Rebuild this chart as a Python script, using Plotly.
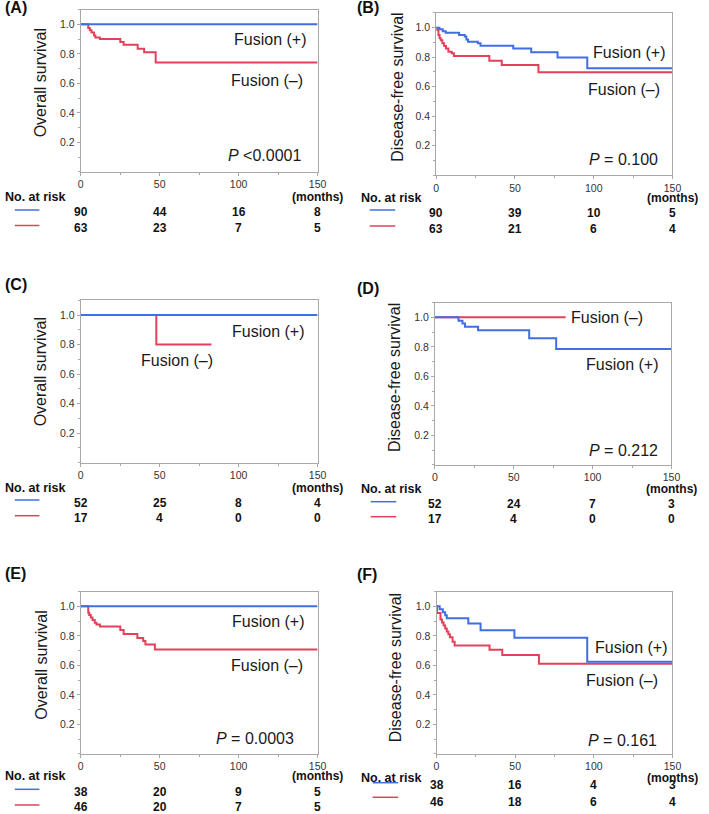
import plotly.graph_objects as go

W, H = 709, 814
BLUE = "#3F6FE3"
RED = "#E4405A"
FONT = "Liberation Sans, Arial, sans-serif"

# ---------------- data ----------------
x_tick_vals = [0, 50, 100, 150]
x_tick_text = ["0", "50", "100", "150"]
y_tick_vals = [0.2, 0.4, 0.6, 0.8, 1.0]
y_tick_text = ["0.2", "0.4", "0.6", "0.8", "1.0"]
risk_times = [0, 50, 100, 150]

# (A) overall survival
A_pos_t = [0, 150]
A_pos_s = [1.0, 1.0]
A_neg_t = [0, 4.8, 5.8, 6.9, 8.5, 9.3, 12.2, 25.1, 27.2, 36.1, 40.2, 47.5, 150]
A_neg_s = [1.0, 0.975, 0.96, 0.945, 0.925, 0.91, 0.90, 0.88, 0.862, 0.835, 0.81, 0.742, 0.742]
A_risk_pos = [90, 44, 16, 8]
A_risk_neg = [63, 23, 7, 5]
A_p = "<i>P</i> &lt;0.0001"

# (B) disease-free survival
B_pos_t = [0, 2.0, 4.1, 6.0, 14.5, 18.1, 19.1, 20.2, 26.4, 28.1, 48.9, 60.3, 77.0, 95.9, 150]
B_pos_s = [1.0, 0.99, 0.975, 0.966, 0.95, 0.94, 0.92, 0.905, 0.894, 0.878, 0.858, 0.833, 0.797, 0.725, 0.725]
B_neg_t = [0, 0.3, 1.4, 2.1, 2.9, 3.9, 5.0, 6.2, 7.7, 9.8, 11.2, 33.7, 41.6, 64.9, 150]
B_neg_s = [1.0, 0.985, 0.95, 0.928, 0.915, 0.894, 0.876, 0.858, 0.837, 0.826, 0.808, 0.776, 0.747, 0.697, 0.697]
B_risk_pos = [90, 39, 10, 5]
B_risk_neg = [63, 21, 6, 4]
B_p = "<i>P</i> = 0.100"

# (C) overall survival
C_pos_t = [0, 150]
C_pos_s = [1.0, 1.0]
C_neg_t = [0, 47.9, 82.8]
C_neg_s = [1.0, 0.8, 0.8]
C_risk_pos = [52, 25, 8, 4]
C_risk_neg = [17, 4, 0, 0]
C_p = ""

# (D) disease-free survival
D_pos_t = [0, 15.0, 17.5, 19.1, 27.4, 59.8, 76.9, 150]
D_pos_s = [1.0, 0.977, 0.959, 0.936, 0.912, 0.858, 0.785, 0.785]
D_neg_t = [0, 82.9]
D_neg_s = [1.0, 1.0]
D_risk_pos = [52, 24, 7, 3]
D_risk_neg = [17, 4, 0, 0]
D_p = "<i>P</i> = 0.212"

# (E) overall survival
E_pos_t = [0, 150]
E_pos_s = [1.0, 1.0]
E_neg_t = [0, 4.8, 5.4, 6.4, 7.5, 8.9, 10.0, 12.2, 25.1, 27.2, 35.9, 39.6, 41.0, 47.0, 150]
E_neg_s = [1.0, 0.957, 0.941, 0.925, 0.907, 0.889, 0.877, 0.864, 0.84, 0.812, 0.785, 0.765, 0.742, 0.708, 0.708]
E_risk_pos = [38, 20, 9, 5]
E_risk_neg = [46, 20, 7, 5]
E_p = "<i>P</i> = 0.0003"

# (F) disease-free survival
F_pos_t = [0, 2.0, 4.0, 5.5, 6.5, 20.2, 28.0, 49.5, 95.8, 150]
F_pos_s = [1.0, 0.98, 0.96, 0.94, 0.92, 0.883, 0.838, 0.787, 0.625, 0.625]
F_neg_t = [0, 0.3, 2.5, 3.5, 4.5, 5.5, 6.5, 7.5, 8.5, 10.2, 11.5, 33.7, 41.8, 65.1, 150]
F_neg_s = [1.0, 0.955, 0.91, 0.89, 0.87, 0.85, 0.83, 0.81, 0.79, 0.76, 0.735, 0.705, 0.67, 0.61, 0.61]
F_risk_pos = [38, 16, 4, 3]
F_risk_neg = [46, 18, 6, 4]
F_p = "<i>P</i> = 0.161"

OS = "Overall survival"
DFS = "Disease-free survival"

# ---------------- layout geometry (pixels) ----------------
def fx(x):
    return x / W

def fy(y):
    return 1 - y / H

panels = [
    dict(label="(A)", ytitle=OS, pos=(A_pos_t, A_pos_s), neg=(A_neg_t, A_neg_s),
         rp=A_risk_pos, rn=A_risk_neg, p=A_p,
         box=(79, 320, 9.6, 171.8), lab=(0, 7.5), yt=(38.5, 82.5),
         plus=(271.7, 39.3), minus=(269, 80), pxy=(306, 155.8),
         nar=(0, 196.5), rows=(211.7, 227.7), lines=(12, 37, 210, 225.5)),
    dict(label="(B)", ytitle=DFS, pos=(B_pos_t, B_pos_s), neg=(B_neg_t, B_neg_s),
         rp=B_risk_pos, rn=B_risk_neg, p=B_p,
         box=(440.7, 681, 12.9, 175.2), lab=(358, 7), yt=(401, 87.5),
         plus=(637, 52.5), minus=(632, 89), pxy=(668, 159),
         nar=(362, 198), rows=(212.7, 229.3), lines=(373, 399, 210, 226)),
    dict(label="(C)", ytitle=OS, pos=(C_pos_t, C_pos_s), neg=(C_neg_t, C_neg_s),
         rp=C_risk_pos, rn=C_risk_neg, p=C_p,
         box=(79, 320, 300.3, 462.5), lab=(0, 284), yt=(38.3, 371.7),
         plus=(270, 331), minus=(177.5, 360.5), pxy=(306, 450),
         nar=(0, 488.2), rows=(502.7, 518.3), lines=(12, 37, 500, 515.7)),
    dict(label="(D)", ytitle=DFS, pos=(D_pos_t, D_pos_s), neg=(D_neg_t, D_neg_s),
         rp=D_risk_pos, rn=D_risk_neg, p=D_p,
         box=(439.3, 680, 302.6, 464.8), lab=(358, 288.5), yt=(398.3, 377.5),
         plus=(630, 364), minus=(614, 317.5), pxy=(668, 450.5),
         nar=(362, 489.2), rows=(504.3, 519.3), lines=(374, 400, 501.7, 516.7)),
    dict(label="(E)", ytitle=OS, pos=(E_pos_t, E_pos_s), neg=(E_neg_t, E_neg_s),
         rp=E_risk_pos, rn=E_risk_neg, p=E_p,
         box=(79, 320, 591.6, 753.8), lab=(0, 573.5), yt=(38.3, 665),
         plus=(269.5, 621), minus=(269, 665), pxy=(298, 738.5),
         nar=(0, 776.2), rows=(791.7, 806.7), lines=(12, 37, 789.3, 805)),
    dict(label="(F)", ytitle=DFS, pos=(F_pos_t, F_pos_s), neg=(F_neg_t, F_neg_s),
         rp=F_risk_pos, rn=F_risk_neg, p=F_p,
         box=(441, 681, 591.6, 753.8), lab=(358, 574.5), yt=(399.5, 667.5),
         plus=(638.5, 647.5), minus=(629.5, 680.5), pxy=(667, 740),
         nar=(362, 778), rows=(785.3, 801.7), lines=(376, 402, 782.7, 797.3)),
]

fig = go.Figure()
annotations = []
shapes = []
layout_axes = {}

AXCOL = "#A8A8A8"
TICKFONT = dict(family=FONT, size=10.5, color="#333333")
TXT = "#1a1a1a"

for i, pnl in enumerate(panels, start=1):
    sx = "" if i == 1 else str(i)
    xname, yname = "x" + sx, "y" + sx
    l, r, t, b = pnl["box"]

    # curves: red (Fusion -) first, then blue (Fusion +) on top
    fig.add_trace(go.Scatter(x=pnl["neg"][0], y=pnl["neg"][1], mode="lines",
                             line=dict(color=RED, width=2, shape="hv"),
                             xaxis=xname, yaxis=yname, hoverinfo="skip"))
    fig.add_trace(go.Scatter(x=pnl["pos"][0], y=pnl["pos"][1], mode="lines",
                             line=dict(color=BLUE, width=2, shape="hv"),
                             xaxis=xname, yaxis=yname, hoverinfo="skip"))

    layout_axes["xaxis" + sx] = dict(
        domain=[fx(l), fx(r)], anchor=yname, range=[0, 150],
        tickmode="array", tickvals=x_tick_vals, ticktext=x_tick_text,
        ticks="outside", ticklen=3, tickcolor=AXCOL, tickfont=TICKFONT,
        minor=dict(tickmode="linear", tick0=0, dtick=25, ticks="outside",
                   ticklen=2, tickcolor=AXCOL),
        showline=True, linecolor=AXCOL, linewidth=1, mirror=True,
        showgrid=False, zeroline=False, fixedrange=True)
    layout_axes["yaxis" + sx] = dict(
        domain=[fy(b), fy(t)], anchor=xname, range=[0, 1.1],
        tickmode="array", tickvals=y_tick_vals, ticktext=y_tick_text,
        ticks="outside", ticklen=3, tickcolor=AXCOL, tickfont=TICKFONT,
        minor=dict(tickmode="linear", tick0=0, dtick=0.1, ticks="outside",
                   ticklen=2, tickcolor=AXCOL),
        showline=True, linecolor=AXCOL, linewidth=1, mirror=True,
        showgrid=False, zeroline=False, fixedrange=True)

    annotations.append(dict(text="<b>" + pnl["label"] + "</b>", xref="paper", yref="paper",
                            x=fx(pnl["lab"][0]), y=fy(pnl["lab"][1]), xanchor="left",
                            yanchor="middle", showarrow=False,
                            font=dict(family=FONT, size=16, color="#111")))
    annotations.append(dict(text=pnl["ytitle"], xref="paper", yref="paper",
                            x=fx(pnl["yt"][0]), y=fy(pnl["yt"][1]), textangle=-90,
                            xanchor="center", yanchor="middle", showarrow=False,
                            font=dict(family=FONT, size=16, color=TXT)))
    annotations.append(dict(text="Fusion (+)", xref="paper", yref="paper",
                            x=fx(pnl["plus"][0]), y=fy(pnl["plus"][1]),
                            xanchor="center", yanchor="middle", showarrow=False,
                            font=dict(family=FONT, size=16, color=TXT)))
    annotations.append(dict(text="Fusion (–)", xref="paper", yref="paper",
                            x=fx(pnl["minus"][0]), y=fy(pnl["minus"][1]),
                            xanchor="center", yanchor="middle", showarrow=False,
                            font=dict(family=FONT, size=16, color=TXT)))
    if pnl["p"]:
        annotations.append(dict(text=pnl["p"], xref="paper", yref="paper",
                                x=fx(pnl["pxy"][0]), y=fy(pnl["pxy"][1]),
                                xanchor="right", yanchor="middle", showarrow=False,
                                font=dict(family=FONT, size=16, color=TXT)))
    annotations.append(dict(text="<b>No. at risk</b>", xref="paper", yref="paper",
                            x=fx(pnl["nar"][0]), y=fy(pnl["nar"][1]),
                            xanchor="left", yanchor="middle", showarrow=False,
                            font=dict(family=FONT, size=12.5, color="#111")))
    annotations.append(dict(text="<b>(months)</b>", xref=xname, yref="paper",
                            x=150, y=fy(pnl["nar"][1]),
                            xanchor="center", yanchor="middle", showarrow=False,
                            font=dict(family=FONT, size=12, color="#111")))
    for tv, npos, nneg in zip(risk_times, pnl["rp"], pnl["rn"]):
        annotations.append(dict(text="<b>%d</b>" % npos, xref=xname, yref="paper",
                                x=tv, y=fy(pnl["rows"][0]), xanchor="center",
                                yanchor="middle", showarrow=False,
                                font=dict(family=FONT, size=12, color="#111")))
        annotations.append(dict(text="<b>%d</b>" % nneg, xref=xname, yref="paper",
                                x=tv, y=fy(pnl["rows"][1]), xanchor="center",
                                yanchor="middle", showarrow=False,
                                font=dict(family=FONT, size=12, color="#111")))
    lx0, lx1, ly1, ly2 = pnl["lines"]
    shapes.append(dict(type="line", xref="paper", yref="paper", x0=fx(lx0), x1=fx(lx1),
                       y0=fy(ly1), y1=fy(ly1), line=dict(color=BLUE, width=1.5)))
    shapes.append(dict(type="line", xref="paper", yref="paper", x0=fx(lx0), x1=fx(lx1),
                       y0=fy(ly2), y1=fy(ly2), line=dict(color=RED, width=1.5)))

fig.update_layout(
    width=W, height=H,
    margin=dict(l=0, r=0, t=0, b=0),
    paper_bgcolor="white", plot_bgcolor="white",
    showlegend=False,
    annotations=annotations,
    shapes=shapes,
    font=dict(family=FONT),
    **layout_axes,
)

fig.write_html("out.html",
               config={"displayModeBar": False, "staticPlot": True},
               post_script="document.body.style.margin='0px';document.body.style.overflow='hidden';")
